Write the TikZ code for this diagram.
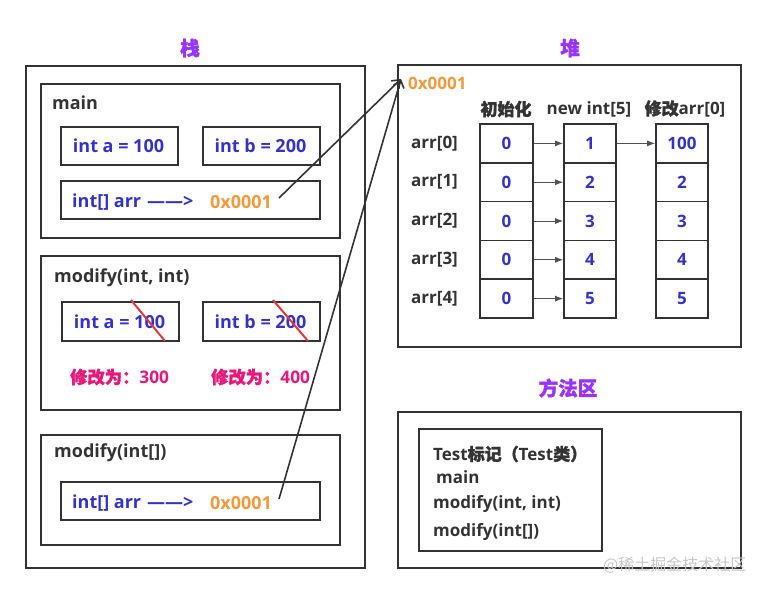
\documentclass[tikz,border=0pt]{standalone}
\usepackage{fontspec}
\setmainfont{Open Sans}
\newfontfamily\cjk{Noto Sans CJK SC}[FakeBold=1.6]
\newfontfamily\cjkr{Noto Sans CJK SC}
\usetikzlibrary{arrows.meta}
\definecolor{linec}{HTML}{333333}
\definecolor{bluec}{HTML}{3333CC}
\definecolor{orangec}{HTML}{F39A3C}
\definecolor{purplec}{HTML}{9933FF}
\definecolor{pinkc}{HTML}{E8177A}
\definecolor{redc}{HTML}{E53935}
\definecolor{darkc}{HTML}{333333}
\tikzset{
  box/.style={draw=linec, line width=1.7pt, inner sep=0pt, anchor=north west},
  cell/.style={draw=linec, line width=1.7pt, inner sep=0pt, minimum width=52pt, minimum height=38.8pt, text=bluec, font=\bfseries\fontsize{17}{20}\selectfont},
  val/.style={text=bluec, font=\bfseries\fontsize{18}{21}\selectfont, inner sep=0pt},
  addr/.style={text=orangec, font=\bfseries\fontsize{18}{21}\selectfont, inner sep=0pt},
  lbl/.style={text=darkc, font=\bfseries\fontsize{18}{21}\selectfont, inner sep=0pt},
  hlbl/.style={text=darkc, font=\bfseries\fontsize{17}{20}\selectfont, inner sep=0pt},
  title/.style={text=purplec, font=\bfseries\cjk\fontsize{19.5}{22}\selectfont, inner sep=0pt},
  pink/.style={text=pinkc, font=\bfseries\fontsize{17.3}{20}\selectfont, inner sep=0pt},
  strike/.style={draw=redc, line width=2pt},
  ptr/.style={draw=linec, line width=1.6pt, -{Straight Barb[length=7pt,width=11pt,line width=1.6pt]}},
  small/.style={draw=linec!85, line width=0.9pt, -{Latex[length=8pt,width=6pt]}},
}
\begin{document}
\begin{tikzpicture}[x=1pt,y=-1pt]
\useasboundingbox (0,0) rectangle (765,592);
% titles
\node[title] (tstack) at (190,48) {栈};
\node[title] (theap) at (570,48) {堆};
\node[title] (tmeth) at (568,388) {方法区};

% stack
\node[box, minimum width=339pt, minimum height=502pt] (stack) at (25,65) {};
\node[box, minimum width=299pt, minimum height=154pt] (mainf) at (40,83) {};
\node[lbl, anchor=west] (mainl) at (52,103) {main};
\node[box, minimum width=117pt, minimum height=38pt] (ma) at (60,126) {};
\node[val] (mat) at (118.5,146) {int a = 100};
\node[box, minimum width=117pt, minimum height=38pt] (mb) at (202,126) {};
\node[val] (mbt) at (260.5,146) {int b = 200};
\node[box, minimum width=259pt, minimum height=38pt] (marr) at (60,180) {};
\node[val, anchor=west] (marrt) at (72,202) {int[] arr};
\node[val, anchor=west] (marrd) at (147,202) {——>};
\node[addr, anchor=west] (maddr) at (210,202) {0x0001};
\coordinate (p1) at (279,198);

\node[box, minimum width=299pt, minimum height=154pt] (modf) at (40,255) {};
\node[lbl, anchor=west] (modl) at (54,278) {modify(int, int)};
\node[box, minimum width=117pt, minimum height=39pt] (da) at (61,301) {};
\node[val] (dat) at (119.5,322) {int a = 100};
\node[box, minimum width=117pt, minimum height=39pt] (db) at (202,301) {};
\node[val] (dbt) at (260.5,322) {int b = 200};
\draw[strike] (131,300) -- (165,341);
\draw[strike] (273,300) -- (308,341);
\node[pink, anchor=west] (p300) at (70,377) {{\cjk 修改为：}300};
\node[pink, anchor=west] (p400) at (211,377) {{\cjk 修改为：}400};

\node[box, minimum width=299pt, minimum height=110pt] (modg) at (40,434) {};
\node[lbl, anchor=west] (modgl) at (54,453) {modify(int[])};
\node[box, minimum width=259pt, minimum height=38pt] (garr) at (60,481) {};
\node[val, anchor=west] (garrt) at (72,503) {int[] arr};
\node[val, anchor=west] (garrd) at (147,503) {——>};
\node[addr, anchor=west] (gaddr) at (210,503) {0x0001};
\coordinate (p2) at (279,499);

% heap
\node[box, minimum width=343pt, minimum height=282pt] (heap) at (397,64) {};
\node[addr, font=\bfseries\fontsize{17}{20}\selectfont, anchor=west] (haddr) at (408,83) {0x0001};
\coordinate (hp) at (401,79);
\draw[ptr] (p1) -- (hp);
\draw[ptr] (p2) -- (hp);

\node[hlbl] (h1) at (506,109) {\cjk 初始化};
\node[hlbl] (h2) at (589,109) {new int[5]};
\node[hlbl] (h3) at (685,109) {{\cjk 修改}arr[0]};

\foreach \i/\v/\w in {0/1/100,1/2/2,2/3/3,3/4/4,4/5/5}{
  \pgfmathsetmacro{\yc}{143.4+38.8*\i}
  \node[hlbl, anchor=west] (l\i) at (411,\yc) {arr[\i]};
  \node[cell, minimum width=53pt] (a\i) at (506.5,\yc) {0};
  \node[cell] (b\i) at (590,\yc) {\v};
  \node[cell] (c\i) at (682,\yc) {\w};
  \draw[small] (a\i.east) -- (b\i.west);
}
\draw[small] (b0.east) -- (c0.west);

% method area
\node[box, minimum width=343pt, minimum height=156pt] (meth) at (397,411) {};
\node[box, minimum width=183pt, minimum height=122pt] (cls) at (418,428) {};
\node[hlbl, anchor=west] (m1) at (433,454) {Test{\cjk 标记（}Test{\cjk 类）}};
\node[hlbl, anchor=west] (m2) at (436,477) {main};
\node[hlbl, anchor=west] (m3) at (433,504) {modify(int, int)};
\node[hlbl, anchor=west] (m4) at (433,532) {modify(int[])};

\node[anchor=west, inner sep=0pt, text=black!22, font=\cjkr\fontsize{16}{19}\selectfont] (wm) at (603,565) {@稀土掘金技术社区};
\end{tikzpicture}
\end{document}
